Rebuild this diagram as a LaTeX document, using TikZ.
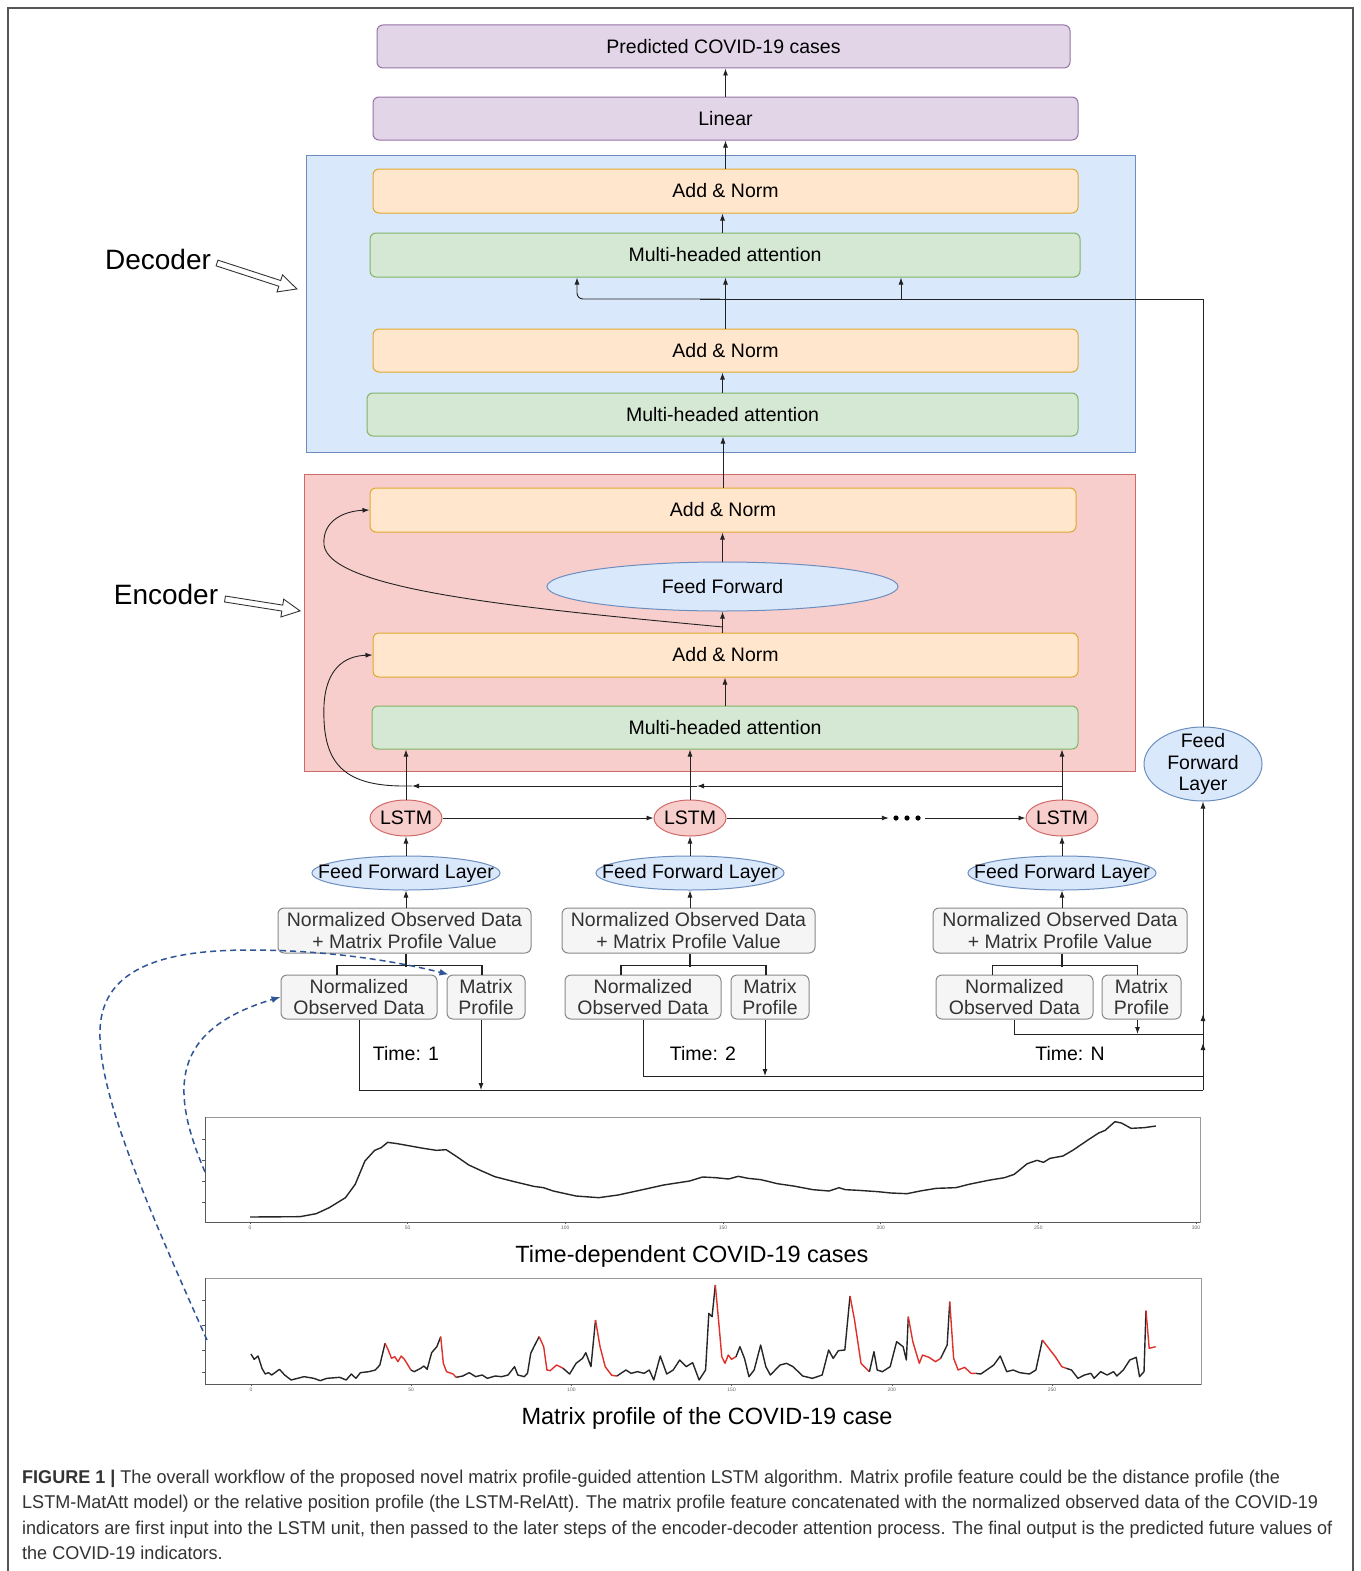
\documentclass[tikz,border=0pt]{standalone}
\usepackage{fontspec}
\setmainfont{Liberation Sans}
\newfontfamily\capfont[FakeStretch=0.975]{Liberation Sans}
\usetikzlibrary{arrows.meta,calc,shapes.geometric}
\definecolor{purF}{HTML}{E1D5E7}\definecolor{purD}{HTML}{9673A6}
\definecolor{bluF}{HTML}{DAE8FC}\definecolor{bluD}{HTML}{6C8EBF}
\definecolor{orgF}{HTML}{FFE6CC}\definecolor{orgD}{HTML}{E0A92B}
\definecolor{grnF}{HTML}{D5E8D4}\definecolor{grnD}{HTML}{82B366}
\definecolor{redF}{HTML}{F8CECC}\definecolor{redD}{HTML}{D06A68}
\definecolor{gryF}{HTML}{F5F5F5}\definecolor{gryD}{HTML}{888888}
\definecolor{txtG}{HTML}{333333}\definecolor{lineC}{HTML}{222222}
\definecolor{dashC}{HTML}{2F5597}\definecolor{frameC}{HTML}{555555}
\definecolor{mpRed}{HTML}{E0302A}
\begin{document}
\begin{tikzpicture}[x=1pt,y=-1pt,
 lbl/.style={font=\fontsize{19.5}{21.5}\selectfont},
 box/.style={lbl, draw, rounded corners=6pt, line width=1pt, inner sep=2pt, align=center},
 pbox/.style={box, fill=purF, draw=purD},
 obox/.style={box, fill=orgF, draw=orgD},
 gbox/.style={box, fill=grnF, draw=grnD},
 wbox/.style={box, fill=gryF, draw=gryD, text=txtG},
 ellb/.style={ellipse, draw=bluD, fill=bluF, line width=1pt, inner sep=0pt},
 ellr/.style={ellipse, draw=redD, fill=redF, line width=1pt, inner sep=0pt},
 arr/.style={-{Latex[length=7pt,width=5pt]}, line width=0.9pt, draw=lineC},
 ln/.style={line width=0.9pt, draw=lineC},
 brk/.style={line width=1.8pt, draw=lineC},
 dsh/.style={dash pattern=on 6pt off 4pt, line width=1.5pt, draw=dashC, -{Latex[length=9pt,width=7pt]}, dashC},
 plotl/.style={line width=1.4pt, draw=black!85, line join=round},
 plotr/.style={line width=1.4pt, draw=mpRed, line join=round},
 ticklbl/.style={font=\fontsize{5}{6}\selectfont, text=black!60},
 biglbl/.style={font=\fontsize{23.5}{26}\selectfont},
 side/.style={font=\fontsize{28}{32}\selectfont},
 captxt/.style={anchor=base west, inner sep=0pt, font=\capfont\fontsize{18.5}{22}\selectfont, text=txtG},
 hollow/.style={draw=black!80, fill=white, line width=0.9pt}
]
\useasboundingbox (0,0) rectangle (1360,1571);
\fill[white] (0,0) rectangle (1360,1571);
\draw[frameC, line width=1.5pt] (8,8) rectangle (1353,1600);

% containers
\node[draw=bluD, fill=bluF, line width=1pt, minimum width=829pt, minimum height=297pt, inner sep=0pt] (decbox) at (720.5,303.5) {};
\node[draw=redD, fill=redF, line width=1pt, minimum width=831pt, minimum height=297pt, inner sep=0pt] (encbox) at (719.5,622.5) {};

% top boxes
\node[pbox, minimum width=693pt, minimum height=43pt] (pred) at (723.5,46.5) {Predicted COVID-19 cases};
\node[pbox, minimum width=705pt, minimum height=43pt] (linear) at (725.5,118.5) {Linear};
% decoder
\node[obox, minimum width=705pt, minimum height=44pt] (dan1) at (725.5,191) {Add \& Norm};
\node[gbox, minimum width=710pt, minimum height=44pt] (dmha1) at (725,255) {Multi-headed attention};
\node[obox, minimum width=705pt, minimum height=43pt] (dan2) at (725.5,350.5) {Add \& Norm};
\node[gbox, minimum width=711pt, minimum height=43pt] (dmha2) at (722.5,414.5) {Multi-headed attention};
% encoder
\node[obox, minimum width=706pt, minimum height=44pt] (ean1) at (723,510) {Add \& Norm};
\node[ellb, minimum width=351pt, minimum height=49pt, label={[lbl]center:Feed Forward}] (eff) at (722.5,586.5) {};
\node[obox, minimum width=705pt, minimum height=44pt] (ean2) at (725.5,655) {Add \& Norm};
\node[gbox, minimum width=706pt, minimum height=43pt] (emha) at (725,727.5) {Multi-headed attention};

% right feed forward layer
\node[ellb, minimum width=118pt, minimum height=74pt, label={[lbl,align=center]center:{Feed\\Forward\\Layer}}] (ffl) at (1203,764) {};

% side labels
\node[side] (declab) at (158,259) {Decoder};
\node[side] (enclab) at (166,594) {Encoder};
\begin{scope}[shift={(217,263)}, rotate=-18]
\draw[hollow] (0,-3) -- (66,-3) -- (66,-9) -- (84,0) -- (66,9) -- (66,3) -- (0,3) -- cycle;
\end{scope}
\begin{scope}[shift={(225,599)}, rotate=-9]
\draw[hollow] (0,-3) -- (58,-3) -- (58,-9) -- (76,0) -- (58,9) -- (58,3) -- (0,3) -- cycle;
\end{scope}

% vertical arrows in the stack
\draw[arr] (linear.north) -- (linear.north |- pred.south);
\draw[arr] (dan1.north) -- (dan1.north |- linear.south);
\draw[arr] (dmha1.north -| dmha2.north) -- (dmha2.north |- dan1.south);
\draw[arr] (dan2.north) -- (dan2.north |- dmha1.south);
\draw[arr] (dmha2.north) -- (dmha2.north |- dan2.south);
\draw[arr] (ean1.north) -- (ean1.north |- dmha2.south);
\draw[arr] (eff.north) -- (eff.north |- ean1.south);
\draw[arr] (eff.south |- ean2.north) -- (eff.south);
\draw[arr] (emha.north) -- (emha.north |- ean2.south);

% decoder feedback from the right feed forward layer
\coordinate (fbC) at (1203,299);
\coordinate (fbL) at (577,299);
\coordinate (fbR) at (901,299);
\draw[ln] (ffl.north) -- (fbC) -- (700,299);
\draw[arr, rounded corners=6pt] (720,299) -- (fbL) -- (fbL |- dmha1.south);
\draw[arr] (fbR) -- (fbR |- dmha1.south);

% residual curves in the encoder
\coordinate (rb) at (723,627);
\draw[arr] (rb) .. controls (520,608) and (330,590) .. (324,545) .. controls (322,520) and (345,511) .. (ean1.west);

% LSTM row
\node[ellr, minimum width=72pt, minimum height=36pt, label={[lbl]center:LSTM}] (lstm1) at (406,818) {};
\node[ellr, minimum width=72pt, minimum height=36pt, label={[lbl]center:LSTM}] (lstm2) at (690,818) {};
\node[ellr, minimum width=72pt, minimum height=36pt, label={[lbl]center:LSTM}] (lstm3) at (1062,818) {};
\node[inner sep=0pt, minimum width=36pt, minimum height=8pt] (dots) at (907,818) {};
\fill[black] (896,818) circle (2.6pt) (907,818) circle (2.6pt) (918,818) circle (2.6pt);
\draw[arr] (lstm1.east) -- (lstm2.west);
\draw[arr] (lstm2.east) -- (dots.west);
\draw[arr] (dots.east) -- (lstm3.west);

\draw[arr] (lstm1.north) -- (lstm1.north |- emha.south);
\draw[arr] (lstm2.north) -- (lstm2.north |- emha.south);
\draw[arr] (lstm3.north) -- (lstm3.north |- emha.south);
\coordinate (h3) at (1062,786);
\coordinate (h2) at (697,786);
\coordinate (h1) at (412,786);
\draw[arr] (h3) -- (h2);
\draw[arr] (h2) -- (h1);
\draw[arr] (h1) -- (404,786) .. controls (340,786) and (322,760) .. (324,705) .. controls (326,668) and (345,656) .. (ean2.west);

% feed forward layers
\node[ellb, minimum width=188pt, minimum height=34pt, label={[lbl]center:Feed Forward Layer}] (ffl1) at (406,873) {};
\node[ellb, minimum width=188pt, minimum height=34pt, label={[lbl]center:Feed Forward Layer}] (ffl2) at (690,873) {};
\node[ellb, minimum width=188pt, minimum height=34pt, label={[lbl]center:Feed Forward Layer}] (ffl3) at (1062,873) {};
\draw[arr] (ffl1.north) -- (lstm1.south);
\draw[arr] (ffl2.north) -- (lstm2.south);
\draw[arr] (ffl3.north) -- (lstm3.south);

% input boxes
\node[wbox, minimum width=253pt, minimum height=45pt] (comb1) at (404.5,930.5) {Normalized Observed Data\\+ Matrix Profile Value};
\node[wbox, minimum width=253pt, minimum height=45pt] (comb2) at (688.5,930.5) {Normalized Observed Data\\+ Matrix Profile Value};
\node[wbox, minimum width=254pt, minimum height=45pt] (comb3) at (1060,930.5) {Normalized Observed Data\\+ Matrix Profile Value};
\draw[arr] (ffl1.south |- comb1.north) -- (ffl1.south);
\draw[arr] (ffl2.south |- comb2.north) -- (ffl2.south);
\draw[arr] (ffl3.south |- comb3.north) -- (ffl3.south);

\node[wbox, minimum width=156pt, minimum height=44pt] (nod1) at (359,997) {Normalized\\Observed Data};
\node[wbox, minimum width=78pt, minimum height=44pt] (mp1) at (486,997) {Matrix\\Profile};
\node[wbox, minimum width=156pt, minimum height=44pt] (nod2) at (643,997) {Normalized\\Observed Data};
\node[wbox, minimum width=78pt, minimum height=44pt] (mp2) at (770,997) {Matrix\\Profile};
\node[wbox, minimum width=157pt, minimum height=44pt] (nod3) at (1014.5,997) {Normalized\\Observed Data};
\node[wbox, minimum width=79pt, minimum height=44pt] (mp3) at (1141.5,997) {Matrix\\Profile};

% brackets
\draw[brk] (comb1.south -| lstm1.south) -- ++(0,13);
\draw[brk] ($(nod1.north)+(-22,0)$) -- ++(0,-9) -| ($(mp1.north)+(-4,0)$);
\draw[brk] (comb2.south -| lstm2.south) -- ++(0,13);
\draw[brk] ($(nod2.north)+(-22,0)$) -- ++(0,-9) -| ($(mp2.north)+(-4,0)$);
\draw[brk] (comb3.south -| lstm3.south) -- ++(0,13);
\draw[brk] ($(nod3.north)+(-22,0)$) -- ++(0,-9) -| ($(mp3.north)+(-4,0)$);

% collecting lines
\coordinate (b1) at (1203,1090);
\coordinate (b2) at (1203,1076);
\coordinate (b3) at (1203,1034);
\draw[ln] (nod1.south) |- (b1);
\draw[arr] ($(mp1.south)+(-5,0)$) -- ($(mp1.south |- b1)+(-5,0)$);
\draw[ln] (nod2.south) |- (b2);
\draw[arr] ($(mp2.south)+(-5,0)$) -- ($(mp2.south |- b2)+(-5,0)$);
\draw[ln] (nod3.south) |- (b3);
\draw[arr] ($(mp3.south)+(-4,0)$) -- ($(mp3.south |- b3)+(-4,0)$);
\draw[arr] (b1) -- (ffl.south);
\draw[arr] (b2) -- ($(b2)+(0,-33)$);
\draw[arr] (b3) -- ($(b3)+(0,-20)$);

\node[lbl] (t1) at (406,1054) {Time: 1};
\node[lbl] (t2) at (703,1054) {Time: 2};
\node[lbl] (tn) at (1070,1054) {Time: N};

% chart 1
\draw[black!40, line width=0.8pt] (205,1117) rectangle (1200,1222);
\draw[black!65, line width=0.8pt] (205,1117) -- (205,1222) -- (1200,1222);
\foreach \yy in {1139,1160,1181,1202} \draw[black!65, line width=0.6pt] (205,\yy) -- (202,\yy);
\begin{scope}[shift={(189.62,1107.67)}, x=0.6493pt, y=-0.3333pt]
\foreach \t [count=\i from 0] in {0,50,100,150,200,250,300} {
  \draw[black!65, line width=0.6pt] (93+\i*242.83,343) -- (93+\i*242.83,350);
  \node[ticklbl] at (93+\i*242.83,360) {\t};
}
\draw[plotl] plot coordinates {(93,328) (170,327) (195,318) (215,300) (240,270) (255,230) (270,160) (285,128) (295,120) (305,104) (320,108) (340,115) (360,122) (380,128) (395,126) (410,145) (430,172) (450,190) (470,207) (500,222) (530,236) (545,240) (560,250) (595,265) (630,270) (660,262) (700,245) (730,232) (770,220) (790,208) (810,210) (830,214) (845,206) (860,212) (880,216) (905,228) (930,235) (960,246) (985,250) (1000,240) (1010,246) (1030,248) (1060,252) (1080,256) (1105,258) (1125,250) (1150,242) (1180,240) (1200,230) (1230,218) (1255,210) (1270,200) (1290,168) (1305,158) (1315,164) (1325,152) (1345,145) (1360,128) (1385,95) (1400,76) (1410,68) (1425,42) (1435,46) (1450,62) (1470,60) (1488,55)};
\end{scope}
\node[biglbl] (c1lab) at (692,1256) {Time-dependent COVID-19 cases};

% chart 2
\draw[black!40, line width=0.8pt] (205,1278) rectangle (1201,1384);
\draw[black!65, line width=0.8pt] (205,1278) -- (205,1384) -- (1201,1384);
\foreach \yy in {1300,1325,1350,1372} \draw[black!65, line width=0.6pt] (205,\yy) -- (202,\yy);
\begin{scope}[shift={(190.75,1270)}, x=0.6476pt, y=-0.3333pt]
\foreach \t [count=\i from 0] in {0,50,100,150,200,250} {
  \draw[black!65, line width=0.6pt] (93+\i*247.4,342) -- (93+\i*247.4,349);
  \node[ticklbl] at (93+\i*247.4,359) {\t};
}
\draw[plotl] plot coordinates {(93,252) (98,268) (104,258) (110,295) (115,312) (120,308) (125,315) (130,308) (137,298) (145,315) (155,330) (165,325) (175,320) (190,325) (200,332) (210,325) (230,322) (240,330) (248,312) (255,325) (262,308) (275,305) (285,300) (292,285) (300,220)};
\draw[plotr] plot coordinates {(300,220) (305,240) (310,265) (315,260) (320,275) (325,258) (330,268) (340,300)};
\draw[plotl] plot coordinates {(340,300) (345,305) (355,295) (360,288) (365,298) (372,248) (380,230) (386,200)};
\draw[plotr] plot coordinates {(386,200) (390,280) (395,305) (405,312) (410,322)};
\draw[plotl] plot coordinates {(410,322) (420,318) (430,308) (440,320) (450,315) (458,325) (470,318) (480,320) (490,315) (500,290) (505,315) (515,320) (520,310) (525,250) (530,230) (538,200)};
\draw[plotr] plot coordinates {(538,200) (545,230) (550,300) (555,302) (565,285) (575,295)};
\draw[plotl] plot coordinates {(575,295) (585,312) (595,280) (605,265) (610,248) (618,290) (625,150)};
\draw[plotr] plot coordinates {(625,150) (632,230) (640,290) (650,316) (658,318)};
\draw[plotl] plot coordinates {(658,318) (672,300) (680,310) (690,305) (700,310) (708,300) (715,330) (725,258) (735,312) (745,300) (755,270) (765,290) (775,278) (785,330) (795,300) (800,130) (805,140) (810,45)};
\draw[plotr] plot coordinates {(810,45) (815,150) (820,260) (825,280) (830,255) (835,268) (842,260)};
\draw[plotl] plot coordinates {(842,260) (848,230) (855,265) (862,320) (870,300) (880,225) (888,290) (895,315) (910,285) (920,280) (930,290) (945,318) (960,325) (975,315) (985,240) (992,265) (1000,242) (1010,240) (1018,78)};
\draw[plotr] plot coordinates {(1018,78) (1025,150) (1035,280) (1045,300) (1048,305)};
\draw[plotl] plot coordinates {(1048,305) (1055,245) (1060,300) (1068,305) (1080,290) (1090,215) (1100,230) (1105,270) (1108,140)};
\draw[plotr] plot coordinates {(1108,140) (1115,215) (1125,280) (1130,255) (1140,262) (1150,275) (1158,265)};
\draw[plotl] plot coordinates {(1158,265) (1168,225) (1172,95)};
\draw[plotr] plot coordinates {(1172,95) (1178,265) (1185,300) (1195,292) (1205,310) (1212,310)};
\draw[plotl] plot coordinates {(1212,310) (1220,312) (1240,285) (1250,258) (1260,305) (1270,300) (1280,308) (1295,312) (1305,300) (1315,210)};
\draw[plotr] plot coordinates {(1315,210) (1325,235) (1335,260) (1345,290) (1352,295)};
\draw[plotl] plot coordinates {(1352,295) (1360,300) (1370,325) (1380,315) (1390,310) (1395,325) (1405,305) (1415,315) (1425,305) (1430,318) (1440,300) (1450,270) (1460,262) (1465,320) (1472,305) (1475,122)};
\draw[plotr] plot coordinates {(1475,122) (1480,235) (1490,230)};
\end{scope}
\node[biglbl] (c2lab) at (707,1418) {Matrix profile of the COVID-19 case};

% dashed blue curves
\coordinate (s1) at (205,1172);
\coordinate (s2) at (207,1340);
\draw[dsh] (s1) .. controls (170,1090) and (170,1030) .. (nod1.west);
\draw[dsh] (s2) .. controls (140,1190) and (98,1090) .. (100,1030) .. controls (102,965) and (170,950) .. (250,950) .. controls (330,950) and (400,962) .. ($(mp1.north west)+(2,0)$);

% figure caption
\node[captxt] (cap1) at (22,1483) {\textbf{FIGURE 1 |} The overall workflow of the proposed novel matrix profile-guided attention LSTM algorithm. Matrix profile feature could be the distance profile (the};
\node[captxt] (cap2) at (22,1508.5) {LSTM-MatAtt model) or the relative position profile (the LSTM-RelAtt). The matrix profile feature concatenated with the normalized observed data of the COVID-19};
\node[captxt] (cap3) at (22,1534) {indicators are first input into the LSTM unit, then passed to the later steps of the encoder-decoder attention process. The final output is the predicted future values of};
\node[captxt] (cap4) at (22,1559.5) {the COVID-19 indicators.};
\end{tikzpicture}
\end{document}
